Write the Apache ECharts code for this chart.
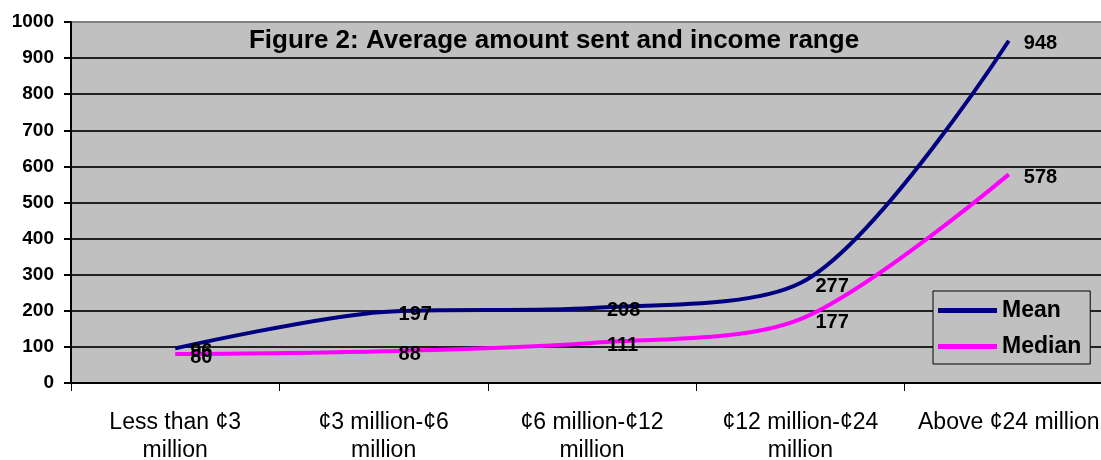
<!DOCTYPE html>
<html>
<head>
<meta charset="utf-8">
<title>Figure 2</title>
<script src="https://cdn.jsdelivr.net/npm/echarts@6/dist/echarts.min.js"></script>
<style>
  html, body { margin: 0; padding: 0; background: #fff; }
  #chart { width: 1101px; height: 460px; }
</style>
</head>
<body>
<div id="chart"></div>
<script>
// data
const categories = [
  "Less than ¢3\nmillion",
  "¢3 million-¢6\nmillion",
  "¢6 million-¢12\nmillion",
  "¢12 million-¢24\nmillion",
  "Above ¢24 million"
];
const meanValues = [96, 197, 208, 277, 948];
const medianValues = [80, 88, 111, 177, 578];
const yTicks = { min: 0, max: 1000, step: 100 };

const FONT = "'Liberation Sans', Arial, sans-serif";

let chart = echarts.init(document.getElementById("chart"));

function lineSeries(name, color, data) {
  return {
    name: name,
    type: "line",
    smooth: 0.3,
    symbol: "circle",
    symbolSize: 0,
    showSymbol: true,
    lineStyle: { width: 4, color: color },
    itemStyle: { color: color },
    label: {
      show: true,
      position: "right",
      distance: 15,
      offset: [0, 3],
      color: "#000",
      fontFamily: FONT,
      fontSize: 20,
      fontWeight: "bold"
    },
    data: data
  };
}

let option = {
  animation: false,
  backgroundColor: "#fff",
  title: {
    text: "Figure 2: Average amount sent and income range",
    left: 554,
    top: 28,
    padding: 0,
    textAlign: "center",
    textStyle: {
      fontFamily: FONT,
      fontSize: 26,
      fontWeight: "bold",
      color: "#000"
    }
  },
  legend: {
    orient: "vertical",
    left: 933,
    top: 291,
    padding: [8, 9, 6, 5],
    itemGap: 13,
    itemWidth: 59,
    itemHeight: 5,
    backgroundColor: "#c0c0c0",
    borderColor: "#000",
    borderWidth: 1,
    borderRadius: 0,
    textStyle: {
      fontFamily: FONT,
      fontSize: 23,
      fontWeight: "bold",
      color: "#000"
    },
    data: [
      { name: "Mean", icon: "rect" },
      { name: "Median", icon: "rect" }
    ]
  },
  grid: {
    show: true,
    outerBoundsMode: "none",
    containLabel: false,
    left: 71,
    top: 22,
    width: 1042,
    height: 361,
    backgroundColor: "#c0c0c0",
    borderColor: "#808080",
    borderWidth: 2
  },
  xAxis: {
    type: "category",
    boundaryGap: true,
    data: categories,
    axisLine: { lineStyle: { color: "#000", width: 2 } },
    axisTick: { show: true, length: 8, lineStyle: { color: "#000", width: 1 } },
    axisLabel: {
      interval: 0,
      margin: 26,
      color: "#000",
      fontFamily: FONT,
      fontSize: 23,
      lineHeight: 28
    },
    splitLine: { show: false }
  },
  yAxis: {
    type: "value",
    min: yTicks.min,
    max: yTicks.max,
    interval: yTicks.step,
    axisLine: { show: true, lineStyle: { color: "#000", width: 2 } },
    axisTick: { show: true, length: 7, lineStyle: { color: "#000", width: 2 } },
    axisLabel: {
      margin: 17,
      color: "#000",
      fontFamily: FONT,
      fontSize: 19,
      fontWeight: "bold",
      formatter: function (v) { return String(v); }
    },
    splitLine: { show: true, showMaxLine: false, lineStyle: { color: "#222", width: 2 } }
  },
  series: [
    lineSeries("Mean", "#000080", meanValues),
    lineSeries("Median", "#ff00ff", medianValues)
  ]
};

chart.setOption(option);
window.addEventListener("resize", function () {
  chart.resize();
});
</script>
</body>
</html>
